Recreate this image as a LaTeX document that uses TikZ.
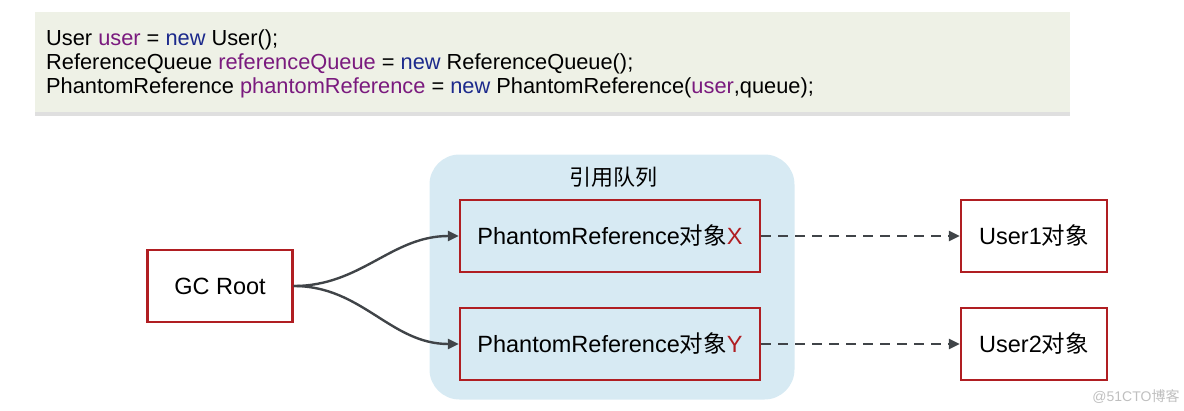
\documentclass[tikz,border=0pt]{standalone}
\usepackage{fontspec}
\setmainfont{Liberation Sans}
\newfontfamily\cjk{Noto Sans CJK SC}
\usetikzlibrary{arrows.meta,shadows}
\definecolor{codebg}{HTML}{EEF1E6}
\definecolor{queuebg}{HTML}{D7EAF3}
\definecolor{boxred}{HTML}{B01E22}
\definecolor{varpurple}{HTML}{7A1A7E}
\definecolor{kwblue}{HTML}{1C2A8C}
\definecolor{linegray}{HTML}{404448}
\tikzset{
  objbox/.style={draw=boxred, line width=2.4pt, fill=white, minimum height=72pt,
    font=\fontsize{23.5}{26}\selectfont, inner sep=0pt},
  refline/.style={linegray, line width=2.4pt, -{Triangle[length=11pt,width=10pt]}},
  weakline/.style={linegray, line width=2.4pt, dash pattern=on 10pt off 7pt,
    -{Triangle[length=11pt,width=10pt]}}
}
\newcommand{\var}[1]{\textcolor{varpurple}{#1}}
\newcommand{\kw}[1]{\textcolor{kwblue}{#1}}
\begin{document}
\begin{tikzpicture}[x=1pt,y=-1pt]
  \useasboundingbox (0,0) rectangle (1184,410);
  % code block
  \node (code) [fill=codebg, minimum width=1035pt, minimum height=100pt,
    drop shadow={shadow xshift=0pt, shadow yshift=-4pt, opacity=0.25}] at (552,62) {};
  \node (codetext) [anchor=west, align=left, inner sep=0pt,
    font=\fontsize{21.8}{24}\selectfont] at (46,64)
    {User \var{user} = \kw{new} User();\\
     ReferenceQueue \var{referenceQueue} = \kw{new} ReferenceQueue();\\
     PhantomReference \var{phantomReference} = \kw{new} PhantomReference(\var{user},queue);};
  % reference queue
  \node (queue) [fill=queuebg, rounded corners=30pt, minimum width=365pt,
    minimum height=245pt] at (612,277) {};
  \node (qtitle) [font=\fontsize{22}{24}\selectfont\cjk] at (613,177) {引用队列};
  \node (refX) [objbox, fill=queuebg, minimum width=300pt] at (610,236)
    {PhantomReference{\cjk 对象}\textcolor{boxred}{X}};
  \node (refY) [objbox, fill=queuebg, minimum width=300pt] at (610,344)
    {PhantomReference{\cjk 对象}\textcolor{boxred}{Y}};
  \node (root) [objbox, minimum width=145pt] at (220,286) {GC Root};
  \node (user1) [objbox, minimum width=146pt] at (1034,236) {User1{\cjk 对象}};
  \node (user2) [objbox, minimum width=146pt] at (1034,344) {User2{\cjk 对象}};
  % connectors
  \draw[refline] (root.east) to[out=0,in=180] (refX.west);
  \draw[refline] (root.east) to[out=0,in=180] (refY.west);
  \draw[weakline] (refX.east) -- (user1.west);
  \draw[weakline] (refY.east) -- (user2.west);
  % watermark
  \node (mark) [text=black!25, font=\fontsize{14}{16}\selectfont] at (1136,397)
    {@51CTO{\cjk 博客}};
\end{tikzpicture}
\end{document}
